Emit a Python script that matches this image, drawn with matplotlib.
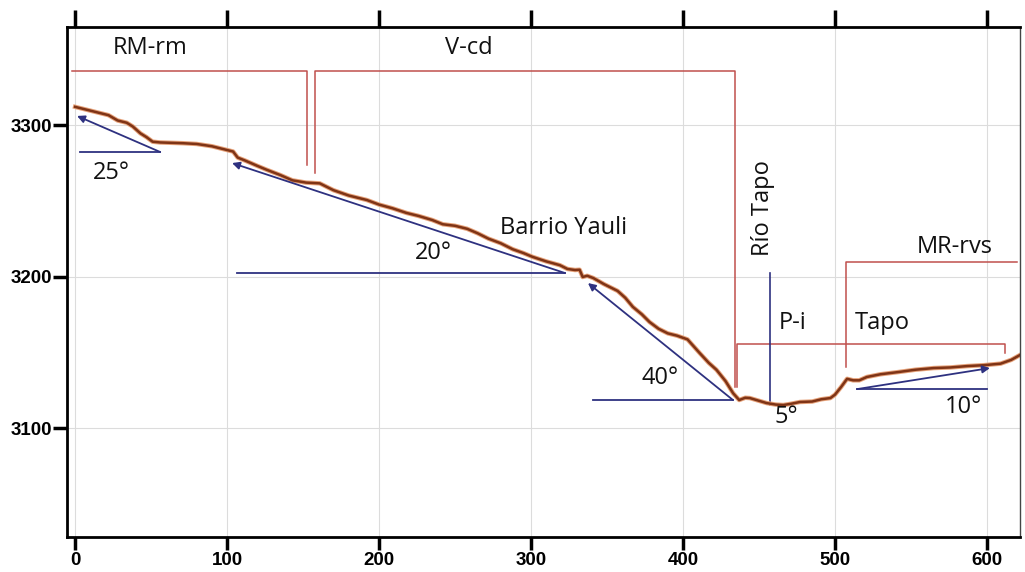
import matplotlib
matplotlib.use("Agg")
from matplotlib import pyplot as plt
import matplotlib.patheffects as pe

# elevation profile (distance m, elevation m)
dist = [0, 8, 16, 22, 28, 34, 38, 43, 47, 51, 56, 62, 71, 80, 90, 100, 104, 107, 112, 120,
        126, 135, 143, 152, 161, 170, 180, 192, 200, 209, 218, 226, 235, 242, 250, 258, 265,
        272, 280, 288, 295, 301, 310, 319, 324, 329, 332, 334, 337, 341, 348, 357, 362, 367,
        373, 378, 384, 390, 396, 403, 407, 411, 417, 422, 428, 433, 437, 441, 444, 450, 455,
        461, 466, 471, 477, 485, 491, 497, 500, 504, 508, 512, 516, 521, 530, 542, 553, 565,
        576, 587, 598, 609, 616, 625]
elev = [3312, 3310, 3308, 3306.5, 3303, 3301.5, 3299, 3294.5, 3292, 3289, 3288.5, 3288.3, 3288,
        3287.5, 3286, 3283.5, 3282.5, 3278.5, 3276.5, 3273, 3270.5, 3267, 3263.5, 3262, 3261.5,
        3257, 3253.5, 3250.5, 3247.5, 3245, 3242, 3240, 3237.3, 3234.5, 3233.5, 3231.5, 3228.5,
        3225, 3222, 3218, 3215.5, 3213, 3210, 3207.5, 3205, 3204.3, 3204.5, 3199.7, 3200.5, 3199,
        3195, 3190.5, 3186, 3180, 3175, 3170, 3165.5, 3162.5, 3161, 3158.5, 3154, 3149.5, 3143,
        3138.5, 3131, 3123, 3118.5, 3120, 3119.8, 3118, 3116.5, 3115.5, 3115.2, 3116, 3117.2,
        3117.5, 3119, 3119.8, 3122, 3127, 3132.5, 3131.5, 3131.5, 3133.7, 3135.5, 3137, 3138.5,
        3139.6, 3140, 3140.9, 3141.5, 3142.5, 3145, 3150]

# geological unit boundaries (red)
unit1_x = [-2, 152.6, 152.6]
unit1_y = [3335.6, 3335.6, 3273.6]
unit2_x = [157.9, 157.9, 434.2, 434.2]
unit2_y = [3268.3, 3335.6, 3335.6, 3127.1]
unit3_x = [435.5, 435.5, 611.8, 611.8]
unit3_y = [3127.1, 3155.4, 3155.4, 3149.5]
unit4_x = [507.2, 507.2, 619.7]
unit4_y = [3140.3, 3209.6, 3209.6]

# slope indicators: (tail x, tail y, head x, head y, base line x0, x1)
slopes = [
    (56, 3282.2, 1.3, 3306, 3.3, 56),
    (322.4, 3202.3, 103.3, 3274.9, 106.6, 322.4),
    (432.9, 3118.5, 337.5, 3195.7, 340.8, 432.9),
    (514.5, 3125.7, 602, 3139.6, 514.5, 600),
]
pi_x = [457.2, 457.2]
pi_y = [3202.3, 3115.2]

labels = [
    ("RM-rm", 25, 3350.8),
    ("V-cd", 243.4, 3350.8),
    ("Barrio Yauli", 279.6, 3232),
    ("20°", 223.7, 3215.5),
    ("25°", 11.8, 3268.3),
    ("40°", 373, 3133),
    ("5°", 460.5, 3107.3),
    ("10°", 572.4, 3113.9),
    ("P-i", 463.2, 3169.3),
    ("Tapo", 513.2, 3169.3),
    ("MR-rvs", 554, 3219.5),
]

red = '#c0504d'
navy = '#2e3180'

fig = plt.figure(figsize=(10.25, 5.72), dpi=100)
ax = fig.add_axes([0.0654, 0.0612, 0.9296, 0.8916])
ax.set_xlim(-5.3, 621.7)
ax.set_ylim(3028.1, 3364.7)

ax.set_xticks([0, 100, 200, 300, 400, 500, 600])
ax.set_yticks([3100, 3200, 3300])
ax.grid(True, color='#dcdcdc', lw=0.8)
ax.set_axisbelow(True)

for s in ['left', 'top', 'bottom']:
    ax.spines[s].set_linewidth(2)
ax.spines['right'].set_linewidth(1)
ax.spines['right'].set_color('#444444')

ax.tick_params(axis='x', top=True, labeltop=False, direction='out', length=9, width=2.5, pad=1.5)
ax.tick_params(axis='y', direction='out', length=10, width=2.5, pad=1)
# taller ticks on the top edge
for t in ax.xaxis.get_major_ticks():
    t.tick2line.set_markersize(12)
for lab in ax.get_xticklabels() + ax.get_yticklabels():
    lab.set_fontfamily('Liberation Sans')
    lab.set_fontweight('bold')
    lab.set_fontsize(13.5)

# boundaries
for xs, ys in [(unit1_x, unit1_y), (unit2_x, unit2_y), (unit3_x, unit3_y), (unit4_x, unit4_y)]:
    ax.plot(xs, ys, color=red, lw=1.1)

ax.plot(pi_x, pi_y, color=navy, lw=1.2)

for tx, ty, hx, hy, b0, b1 in slopes:
    ax.plot([b0, b1], [ty, ty], color=navy, lw=1.3)
    ax.annotate('', xy=(hx, hy), xytext=(tx, ty),
                arrowprops=dict(arrowstyle='-|>', color=navy, lw=1.3, mutation_scale=11,
                                shrinkA=0, shrinkB=0))

ax.plot(dist, elev, color='#7f3416', lw=1.8,
        path_effects=[pe.Stroke(linewidth=3.2, foreground='#e6a27a'), pe.Normal()])

for txt, x, y in labels:
    ax.text(x, y, txt, fontsize=17, family='Open Sans', va='center', ha='left', color='#111111')
ax.text(452.6, 3245.2, 'Río Tapo', fontsize=17, family='Open Sans', rotation=90,
        va='center', ha='center', color='#111111')

fig.savefig('out.png', dpi=100)
